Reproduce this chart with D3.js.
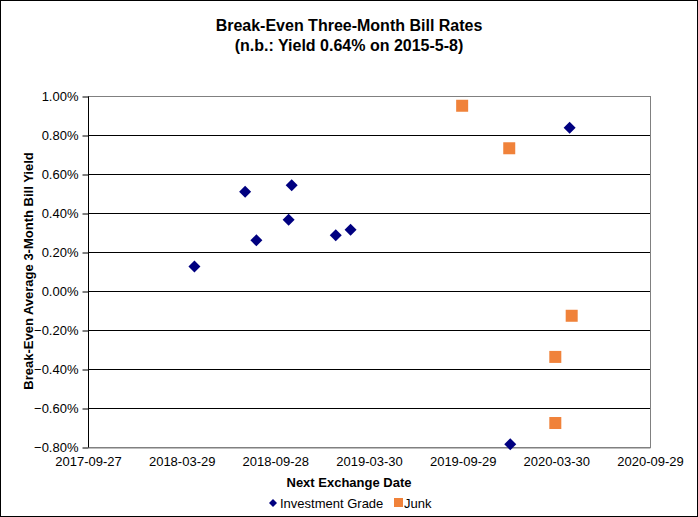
<!DOCTYPE html>
<html><head><meta charset="utf-8">
<script src="https://cdn.jsdelivr.net/npm/d3@7"></script>
<style>body{margin:0;background:#fff;font-family:"Liberation Sans",Arial,sans-serif;}</style>
</head><body><div id="chart"></div>
<script>
const titleLines = ["Break-Even Three-Month Bill Rates", "(n.b.: Yield 0.64% on 2015-5-8)"];
const xTickLabels = ["2017-09-27","2018-03-29","2018-09-28","2019-03-30","2019-09-29","2020-03-30","2020-09-29"];
const yTicks = [1.0,0.8,0.6,0.4,0.2,0.0,-0.2,-0.4,-0.6,-0.8];
const igDates = ["2018-04-23","2018-07-31","2018-08-22","2018-10-24","2018-10-30","2019-01-24","2019-02-22","2019-12-31","2020-04-25"];
const igValues = [0.125,0.509,0.26,0.366,0.542,0.286,0.314,-0.786,0.837];
const junkDates = ["2019-09-28","2019-12-29","2020-03-28","2020-03-28","2020-04-29"];
const junkValues = [0.95,0.732,-0.338,-0.677,-0.127];

const W=698,H=517;
const m={left:88,right:650,top:96,bottom:447};
const parse=d3.utcParse("%Y-%m-%d");
const svg=d3.select("#chart").append("svg").attr("width",W).attr("height",H);
svg.append("rect").attr("x",0.5).attr("y",0.5).attr("width",W-1).attr("height",H-1).attr("fill","#fff").attr("stroke","#000");

const x=d3.scaleUtc().domain([parse(xTickLabels[0]),parse(xTickLabels[xTickLabels.length-1])]).range([m.left,m.right]);
const y=d3.scaleLinear().domain([-0.8,1.0]).range([m.bottom,m.top]);
const FONT="Liberation Sans, Arial, sans-serif";

// title
svg.append("g").selectAll("text").data(titleLines).join("text")
 .attr("x",349).attr("y",(d,i)=>31+i*20).attr("text-anchor","middle")
 .attr("font-size",16).attr("font-weight","bold").text(d=>d);

// gridlines
svg.append("g").selectAll("line").data(yTicks.slice(1,-1)).join("line")
 .attr("x1",m.left).attr("x2",m.right).attr("y1",d=>Math.round(y(d))+0.5).attr("y2",d=>Math.round(y(d))+0.5)
 .attr("stroke","#000");
// plot border
svg.append("rect").attr("x",m.left+0.5).attr("y",m.top+0.5).attr("width",m.right-m.left).attr("height",m.bottom-m.top)
 .attr("fill","none").attr("stroke","#808080");

// y axis
const yAxis=svg.append("g").attr("transform",`translate(${m.left+0.5},0.5)`)
 .call(d3.axisLeft(y).tickValues(yTicks).tickSize(6).tickPadding(4).tickFormat(d=>d3.format(".2f")(d)+"%"));
yAxis.select(".domain").attr("stroke","#000").attr("d",`M0,${m.top}V${m.bottom}`);
yAxis.selectAll(".tick line").attr("stroke","#000");
yAxis.selectAll(".tick text").attr("font-size",13).attr("font-family",FONT).attr("fill","#000");

// x axis
const xAxis=svg.append("g").attr("transform",`translate(0,${m.bottom+0.5})`)
 .call(d3.axisBottom(x).tickValues(xTickLabels.map(parse)).tickSize(0).tickPadding(9).tickFormat(d3.utcFormat("%Y-%m-%d")));
xAxis.select(".domain").attr("stroke","#808080");
xAxis.selectAll(".tick text").attr("font-size",13).attr("font-family",FONT).attr("fill","#000");

// axis titles
svg.append("text").attr("x",349).attr("y",487).attr("text-anchor","middle").attr("font-size",13).attr("font-weight","bold").text("Next Exchange Date");
svg.append("text").attr("transform",`translate(33,271) rotate(-90)`).attr("text-anchor","middle").attr("font-size",13).attr("font-weight","bold").text("Break-Even Average 3-Month Bill Yield");

const diamond=d3.symbol().type(d3.symbolSquare).size(72);
const navy="#000080", orange="#f0823a";
svg.append("g").selectAll("path").data(igDates.map((d,i)=>[parse(d),igValues[i]])).join("path")
 .attr("d",diamond).attr("fill",navy)
 .attr("transform",d=>`translate(${x(d[0])},${y(d[1])}) rotate(45)`);
svg.append("g").selectAll("rect").data(junkDates.map((d,i)=>[parse(d),junkValues[i]])).join("rect")
 .attr("x",d=>x(d[0])-6).attr("y",d=>y(d[1])-6).attr("width",12).attr("height",12).attr("fill",orange);

// legend
const lg=svg.append("g");
lg.append("path").attr("d",d3.symbol().type(d3.symbolSquare).size(32)).attr("fill",navy).attr("transform","translate(273,503) rotate(45)");
lg.append("text").attr("x",280).attr("y",508).attr("font-size",13).text("Investment Grade");
lg.append("rect").attr("x",394).attr("y",498).attr("width",9).attr("height",9).attr("fill",orange);
lg.append("text").attr("x",404).attr("y",508).attr("font-size",13).text("Junk");
</script></body></html>
